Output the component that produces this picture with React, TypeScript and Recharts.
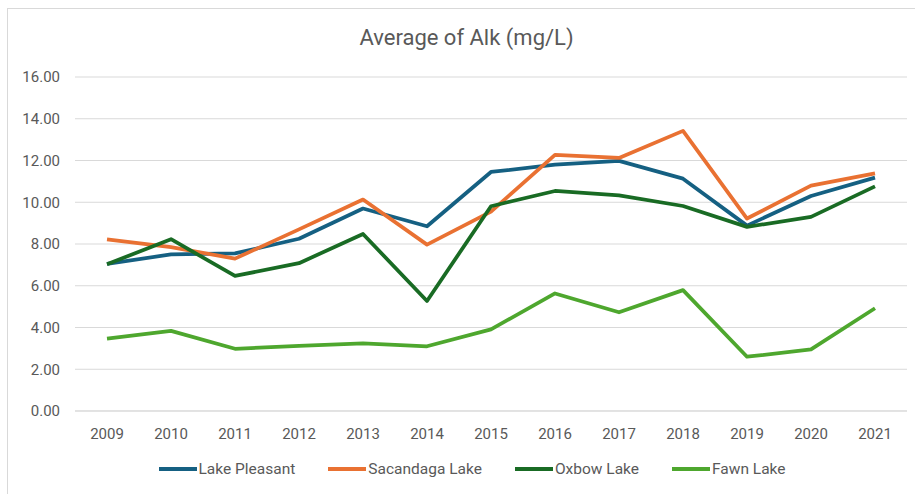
import { LineChart, Line, XAxis, YAxis, CartesianGrid } from "recharts";

const years = ["2009", "2010", "2011", "2012", "2013", "2014", "2015", "2016", "2017", "2018", "2019", "2020", "2021"];
const lakePleasant = [7.05, 7.5, 7.55, 8.25, 9.7, 8.85, 11.45, 11.8, 11.98, 11.13, 8.88, 10.3, 11.18];
const sacandagaLake = [8.22, 7.85, 7.3, 8.7, 10.13, 7.97, 9.55, 12.27, 12.12, 13.42, 9.22, 10.8, 11.38];
const oxbowLake = [7.03, 8.23, 6.47, 7.08, 8.48, 5.27, 9.81, 10.54, 10.33, 9.82, 8.82, 9.3, 10.76];
const fawnLake = [3.47, 3.84, 2.98, 3.12, 3.24, 3.1, 3.91, 5.63, 4.73, 5.79, 2.6, 2.95, 4.92];
const yTicks = [0, 2, 4, 6, 8, 10, 12, 14, 16];

const series = [
  { key: "lakePleasant", name: "Lake Pleasant", color: "#156082", values: lakePleasant },
  { key: "sacandagaLake", name: "Sacandaga Lake", color: "#E97132", values: sacandagaLake },
  { key: "oxbowLake", name: "Oxbow Lake", color: "#196B24", values: oxbowLake },
  { key: "fawnLake", name: "Fawn Lake", color: "#4EA72E", values: fawnLake },
];

const data = years.map((year, i) => {
  const row: Record<string, string | number> = { year };
  series.forEach((s) => {
    row[s.key] = s.values[i];
  });
  return row;
});

const font = "Roboto, 'Open Sans', sans-serif";
const textColor = "#595959";
const gridColor = "#d9d9d9";

const App = () => {
  return (
    <div
      style={{
        position: "fixed",
        left: 0,
        top: 0,
        width: 915,
        height: 494,
        overflow: "hidden",
        background: "#fff",
        fontFamily: font,
      }}
    >
      <div
        style={{
          position: "absolute",
          left: 7,
          top: 8,
          width: 940,
          height: 520,
          border: `1px solid ${gridColor}`,
        }}
      />
      <div
        style={{
          position: "absolute",
          left: 0,
          top: 27,
          width: 933,
          textAlign: "center",
          fontSize: 22,
          lineHeight: "22px",
          color: textColor,
        }}
      >
        Average of Alk (mg/L)
      </div>

      <div style={{ position: "absolute", left: 0, top: 0 }}>
        <LineChart width={915} height={494} data={data} margin={{ top: 77, right: 8, bottom: 53, left: 0 }}>
          <CartesianGrid vertical={false} stroke={gridColor} strokeWidth={1} />
          <XAxis
            dataKey="year"
            axisLine={{ stroke: gridColor }}
            tickLine={false}
            tickMargin={11}
            height={30}
            padding={{ left: 32, right: 32 }}
            tick={{ fontSize: 15, fill: textColor, fontFamily: font }}
            interval={0}
          />
          <YAxis
            domain={[0, 16]}
            ticks={yTicks}
            width={75}
            axisLine={false}
            tickLine={false}
            tickMargin={9}
            tickFormatter={(v: number) => v.toFixed(2)}
            tick={{ fontSize: 15, fill: textColor, fontFamily: font }}
          />
          {series.map((s) => (
            <Line
              key={s.key}
              type="linear"
              dataKey={s.key}
              name={s.name}
              stroke={s.color}
              strokeWidth={3.75}
              strokeLinejoin="round"
              dot={false}
              activeDot={false}
              isAnimationActive={false}
            />
          ))}
        </LineChart>
      </div>

      <div
        style={{
          position: "absolute",
          left: 0,
          top: 459,
          width: 944,
          display: "flex",
          justifyContent: "center",
          gap: 33,
          fontSize: 15.5,
          lineHeight: "20px",
          color: textColor,
        }}
      >
        {series.map((s) => (
          <div key={s.key} style={{ display: "flex", alignItems: "center" }}>
            <span style={{ display: "inline-block", width: 38, height: 4, background: s.color, marginRight: 2 }} />
            <span>{s.name}</span>
          </div>
        ))}
      </div>
    </div>
  );
};

export default App;
